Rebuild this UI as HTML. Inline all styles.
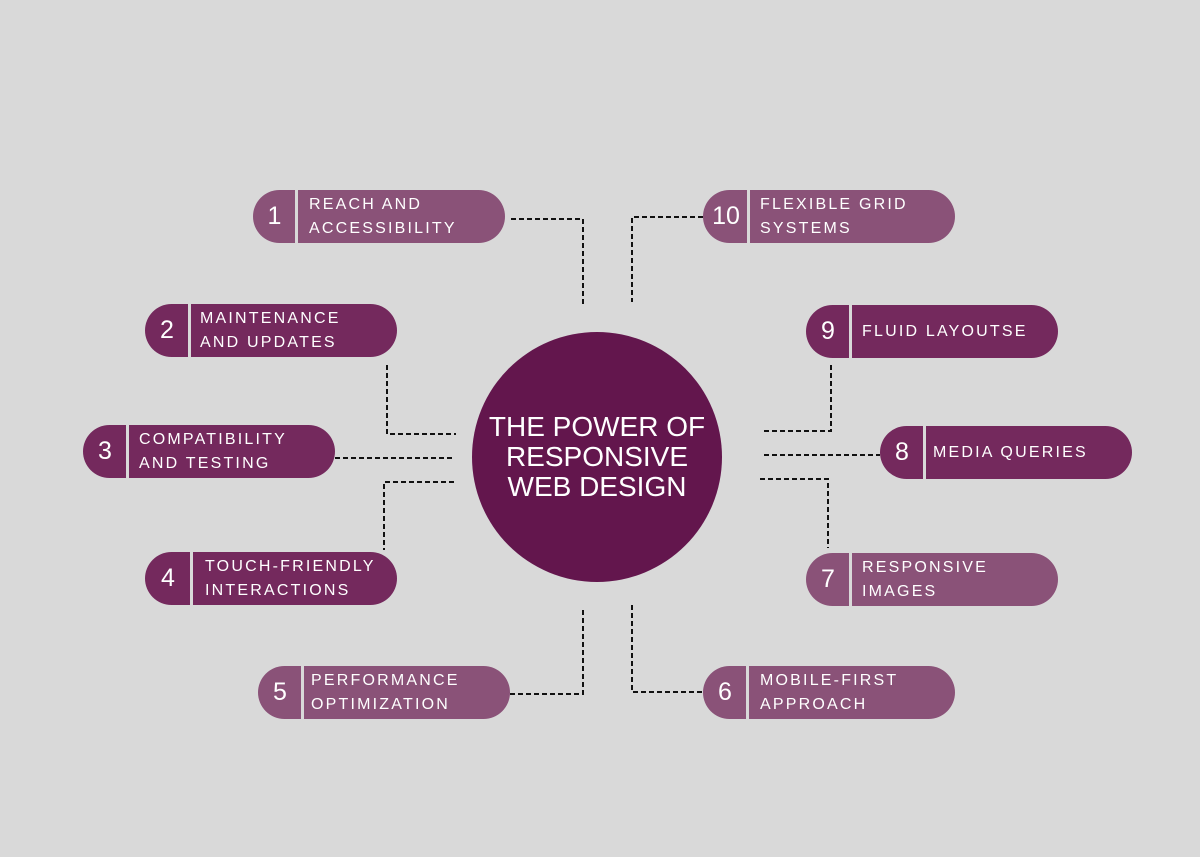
<!DOCTYPE html>
<html><head><meta charset="utf-8"><style>
body{margin:0;width:1200px;height:857px;background:#d9d9d9;position:relative;overflow:hidden;font-family:"Liberation Sans",sans-serif}
.p{position:absolute;width:252px;height:53px;border-radius:27px;color:#fff}
.l{background:#8a5278}.d{background:#74295d}
.n{position:absolute;left:0;top:0;height:53px;line-height:53px;text-align:center;font-size:25px}
.v{position:absolute;top:0;width:3px;height:53px;background:#d9d9d9}
.t{position:absolute;top:0;height:53px;display:flex;align-items:center;font-size:16px;letter-spacing:2.2px;line-height:24px}
.c{position:absolute;left:472px;top:332px;width:250px;height:250px;border-radius:50%;background:#63164d;color:#fff;display:flex;align-items:center;justify-content:center;text-align:center;font-size:28px;line-height:30px}
svg{position:absolute;left:0;top:0}
</style></head><body>
<svg width="1200" height="857" fill="none" stroke="#111" stroke-width="2" stroke-dasharray="5,3">
<path d="M511 219H583V307"/><path d="M703 217H632V302"/>
<path d="M387 365V434H456"/><path d="M335 458H452"/>
<path d="M454 482H384V550"/><path d="M831 365V431H762"/>
<path d="M764 455H880"/><path d="M760 479H828V548"/>
<path d="M510 694H583V610"/><path d="M632 605V692H703"/>
</svg>
<div class="c">THE POWER OF<br>RESPONSIVE<br>WEB DESIGN</div>

<div class="p l" style="left:253px;top:190px"><div class="n" style="width:43px">1</div><div class="v" style="left:42px"></div><div class="t" style="left:56px">REACH AND<br>ACCESSIBILITY</div></div>
<div class="p l" style="left:703px;top:190px"><div class="n" style="width:46px">10</div><div class="v" style="left:44px"></div><div class="t" style="left:57px">FLEXIBLE GRID<br>SYSTEMS</div></div>
<div class="p d" style="left:145px;top:304px"><div class="n" style="width:44px">2</div><div class="v" style="left:43px"></div><div class="t" style="left:55px">MAINTENANCE<br>AND UPDATES</div></div>
<div class="p d" style="left:806px;top:305px"><div class="n" style="width:44px">9</div><div class="v" style="left:43px"></div><div class="t" style="left:56px">FLUID LAYOUTSE</div></div>
<div class="p d" style="left:83px;top:425px"><div class="n" style="width:44px">3</div><div class="v" style="left:43px"></div><div class="t" style="left:56px">COMPATIBILITY<br>AND TESTING</div></div>
<div class="p d" style="left:880px;top:426px"><div class="n" style="width:44px">8</div><div class="v" style="left:43px"></div><div class="t" style="left:53px">MEDIA QUERIES</div></div>
<div class="p d" style="left:145px;top:552px"><div class="n" style="width:46px">4</div><div class="v" style="left:45px"></div><div class="t" style="left:60px">TOUCH-FRIENDLY<br>INTERACTIONS</div></div>
<div class="p l" style="left:806px;top:553px"><div class="n" style="width:44px">7</div><div class="v" style="left:43px"></div><div class="t" style="left:56px">RESPONSIVE<br>IMAGES</div></div>
<div class="p l" style="left:258px;top:666px"><div class="n" style="width:44px">5</div><div class="v" style="left:43px"></div><div class="t" style="left:53px">PERFORMANCE<br>OPTIMIZATION</div></div>
<div class="p l" style="left:703px;top:666px"><div class="n" style="width:44px">6</div><div class="v" style="left:43px"></div><div class="t" style="left:57px">MOBILE-FIRST<br>APPROACH</div></div>
</body></html>
